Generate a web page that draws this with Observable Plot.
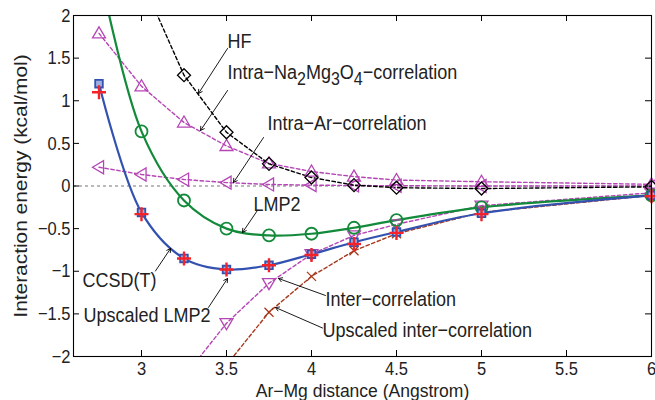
<!DOCTYPE html>
<html>
<head>
<meta charset="utf-8">
<script src="https://cdn.jsdelivr.net/npm/d3@7"></script>
<script src="https://cdn.jsdelivr.net/npm/@observablehq/plot@0.6"></script>
<style>
  html, body { margin: 0; padding: 0; background: #fff; }
</style>
</head>
<body>
<div id="chart"></div>
<script>
// ---- data (kcal/mol vs Ar–Mg distance in Å) ----
const distance = [2.75, 3.0, 3.25, 3.5, 3.75, 4.0, 4.25, 4.5, 5.0, 6.0];
const ccsdt    = [1.20, -0.31, -0.85, -0.98, -0.93, -0.80, -0.66, -0.54, -0.32, -0.11];
const upLMP2   = [1.10, -0.33, -0.85, -0.98, -0.93, -0.81, -0.68, -0.55, -0.33, -0.12];
const lmp2     = [2.55, 0.64, -0.17, -0.50, -0.58, -0.56, -0.49, -0.40, -0.25, -0.11];
const hf       = [null, 2.42, 1.30, 0.63, 0.26, 0.10, 0.01, -0.02, -0.03, -0.01];
const intraNa  = [1.79, 1.17, 0.745, 0.47, 0.265, 0.17, 0.11, 0.07, 0.05, 0.02];
const intraAr  = [0.22, 0.135, 0.076, 0.04, 0.018, 0.01, 0.006, 0.003, 0.0, 0.0];
const inter    = [null, null, -2.24, -1.61, -1.14, -0.80, -0.58, -0.45, -0.23, -0.08];
const upInter  = [null, null, null, -2.10, -1.48, -1.06, -0.76, -0.56, -0.31, -0.11];

const xTicks = [3, 3.5, 4, 4.5, 5, 5.5, 6];
const yTicks = [-2, -1.5, -1, -0.5, 0, 0.5, 1, 1.5, 2];
const xLabel = "Ar−Mg distance (Angstrom)";
const yLabel = "Interaction energy (kcal/mol)";

const naLabel = "Intra−Na2Mg3O4−correlation";
const annotLabels = ["HF", naLabel, "Intra−Ar−correlation", "LMP2", "CCSD(T)", "Upscaled LMP2", "Inter−correlation", "Upscaled inter−correlation"];
const annotX = [3.506, 3.506, 3.741, 3.659, 2.653, 2.659, 4.082, 4.065];
const annotY = [1.70, 1.335, 0.74, -0.21, -1.11, -1.52, -1.33, -1.695];
const arrowX1 = [3.506, 3.506, 3.718, 3.682, 3.082, 3.394, 4.082, 4.065];
const arrowY1 = [1.613, 1.12, 0.569, -0.287, -0.997, -1.425, -1.284, -1.666];
const arrowX2 = [3.335, 3.347, 3.541, 3.594, 3.171, 3.506, 3.806, 3.788];
const arrowY2 = [1.085, 0.651, 0.041, -0.545, -0.733, -1.085, -1.085, -1.425];

// ---- helpers ----
const rows = (ys) => distance.map((x, i) => ({x, y: ys[i]})).filter(d => d.y != null);
const annots = annotLabels.map((t, i) => ({t, x: annotX[i], y: annotY[i]}));
const arrows = annotLabels.map((t, i) => ({x1: arrowX1[i], y1: arrowY1[i], x2: arrowX2[i], y2: arrowY2[i]}));

const sym = (fn) => ({draw(c, size) { fn(c, Math.sqrt(size / Math.PI)); }});
const symCircle = sym((c, r) => { c.moveTo(r, 0); c.arc(0, 0, r, 0, 2 * Math.PI); });
const symSquare = sym((c, r) => { c.rect(-r, -r, 2 * r, 2 * r); });
const symPlus = sym((c, r) => { c.moveTo(-r, 0); c.lineTo(r, 0); c.moveTo(0, -r); c.lineTo(0, r); });
const symTimes = sym((c, r) => { c.moveTo(-r, -r); c.lineTo(r, r); c.moveTo(-r, r); c.lineTo(r, -r); });
const symDiamond = sym((c, r) => { c.moveTo(0, -r); c.lineTo(r, 0); c.lineTo(0, r); c.lineTo(-r, 0); c.closePath(); });
const symTriUp = sym((c, r) => { c.moveTo(0, -r); c.lineTo(r, 0.7 * r); c.lineTo(-r, 0.7 * r); c.closePath(); });
const symTriDown = sym((c, r) => { c.moveTo(0, r); c.lineTo(r, -0.7 * r); c.lineTo(-r, -0.7 * r); c.closePath(); });
const symTriLeft = sym((c, r) => { c.moveTo(-r, 0); c.lineTo(0.7 * r, -r); c.lineTo(0.7 * r, r); c.closePath(); });

const inView = d => d.y >= -2 && d.y <= 2 && d.x >= 2.6 && d.x <= 6;

const BLUE = "#3352b0", GREEN = "#128a3a", RED = "#f5222a", MAG = "#b545b5", BROWN = "#a8381c";
const dotted = {strokeDasharray: "3.5,2.5", strokeWidth: 1.4, clip: true};
const fmt = d => (d < 0 ? "−" + Math.abs(d) : String(d));

const plot = Plot.plot({
  width: 655,
  height: 400,
  marginLeft: 73,
  marginRight: 4,
  marginTop: 15,
  marginBottom: 44,
  style: {fontFamily: "'Liberation Sans', Arial, Helvetica, sans-serif", fontSize: "16px", background: "#fff", color: "#222"},
  x: {domain: [2.6, 6]},
  y: {domain: [-2, 2]},
  marks: [
    Plot.ruleY([0], {stroke: "#777", strokeDasharray: "3,3", strokeWidth: 1.2}),
    // dotted component curves
    Plot.line(rows(intraAr), {x: "x", y: "y", stroke: MAG, ...dotted}),
    Plot.line(rows(intraNa), {x: "x", y: "y", stroke: MAG, ...dotted}),
    Plot.line(rows(hf), {x: "x", y: "y", stroke: "#000", ...dotted}),
    Plot.line(rows(inter), {x: "x", y: "y", stroke: MAG, ...dotted}),
    Plot.line(rows(upInter), {x: "x", y: "y", stroke: BROWN, ...dotted}),
    // solid fitted curves
    Plot.line(rows(lmp2), {x: "x", y: "y", stroke: GREEN, strokeWidth: 2.2, curve: "catmull-rom", clip: true}),
    Plot.line(rows(ccsdt), {x: "x", y: "y", stroke: BLUE, strokeWidth: 2.2, curve: "catmull-rom", clip: true}),
    // markers
    Plot.dot(rows(intraAr), {x: "x", y: "y", filter: inView, symbol: symTriLeft, r: 6.5, stroke: MAG, strokeWidth: 1.3, fill: "none"}),
    Plot.dot(rows(intraNa), {x: "x", y: "y", filter: inView, symbol: symTriUp, r: 6.5, stroke: MAG, strokeWidth: 1.3, fill: "none"}),
    Plot.dot(rows(inter), {x: "x", y: "y", filter: inView, symbol: symTriDown, r: 6.5, stroke: MAG, strokeWidth: 1.3, fill: "none"}),
    Plot.dot(rows(hf), {x: "x", y: "y", filter: inView, symbol: symDiamond, r: 6.5, stroke: "#000", strokeWidth: 1.3, fill: "none"}),
    Plot.dot(rows(upInter), {x: "x", y: "y", filter: inView, symbol: symTimes, r: 4.5, stroke: BROWN, strokeWidth: 1.3}),
    Plot.dot(rows(lmp2), {x: "x", y: "y", filter: inView, symbol: symCircle, r: 6, stroke: GREEN, strokeWidth: 1.8, fill: "none"}),
    Plot.dot(rows(ccsdt), {x: "x", y: "y", filter: inView, symbol: symSquare, r: 3.8, stroke: BLUE, strokeWidth: 1.8, fill: "#9fb0e0"}),
    Plot.dot(rows(upLMP2), {x: "x", y: "y", filter: inView, symbol: symPlus, r: 7, stroke: RED, strokeWidth: 2.4}),
    // annotations
    Plot.arrow(arrows, {x1: "x1", y1: "y1", x2: "x2", y2: "y2", stroke: "#000", strokeWidth: 0.9, headLength: 7}),
    Plot.text(annots, {x: "x", y: "y", text: "t", textAnchor: "start", fontSize: 18, fill: "#222"}),
    // axes, inward ticks, box
    Plot.frame({stroke: "#000", strokeWidth: 1.1}),
    Plot.tickX(xTicks, {x: d => d, insetTop: 335, stroke: "#000"}),
    Plot.tickX(xTicks, {x: d => d, insetBottom: 335, stroke: "#000"}),
    Plot.tickY(yTicks, {y: d => d, insetLeft: 572, stroke: "#000"}),
    Plot.tickY(yTicks, {y: d => d, insetRight: 572, stroke: "#000"}),
    Plot.axisX({ticks: xTicks, tickSize: 0, tickPadding: 5, tickFormat: fmt, fontSize: 16.5,
                label: xLabel, labelAnchor: "center", labelArrow: "none", labelOffset: 40}),
    Plot.axisY({ticks: yTicks, tickSize: 0, tickPadding: 3, tickFormat: fmt, fontSize: 16.5,
                label: yLabel, labelAnchor: "center", labelArrow: "none", labelOffset: 59})
  ]
});

const svg = d3.select(plot);

// Subscripts for Na2Mg3O4
svg.selectAll("text").filter(function () { return this.textContent === naLabel; }).each(function () {
  const t = d3.select(this);
  t.text(null);
  const parts = [["Intra−Na", false], ["2", true], ["Mg", false], ["3", true], ["O", false], ["4", true], ["−correlation", false]];
  let down = false;
  for (const [s, sub] of parts) {
    const sp = t.append("tspan").text(s);
    if (sub && !down) { sp.attr("dy", "5").attr("font-size", "16"); down = true; }
    else if (sub) { sp.attr("font-size", "16"); }
    else if (down) { sp.attr("dy", "-5"); down = false; }
  }
});

// Axis titles size, then stretch text vertically (tall, narrow lettering of the original)
svg.selectAll("text").each(function () {
  const s = this.textContent;
  if (s === xLabel) this.setAttribute("font-size", "17.5");
  if (s === yLabel) this.setAttribute("font-size", "18");
});
svg.selectAll("text").each(function () {
  if (this.textContent === xLabel) return;
  const k = 1.16;
  const tr = this.getAttribute("transform") || "";
  const x = +this.getAttribute("x") || 0, y = +this.getAttribute("y") || 0;
  const sc = /rotate/.test(tr) ? `scale(${k},1)` : `scale(1,${k})`;
  this.setAttribute("transform", `${tr} translate(${x},${y}) ${sc} translate(${-x},${-y})`);
});

document.getElementById("chart").appendChild(plot);
</script>
</body>
</html>
